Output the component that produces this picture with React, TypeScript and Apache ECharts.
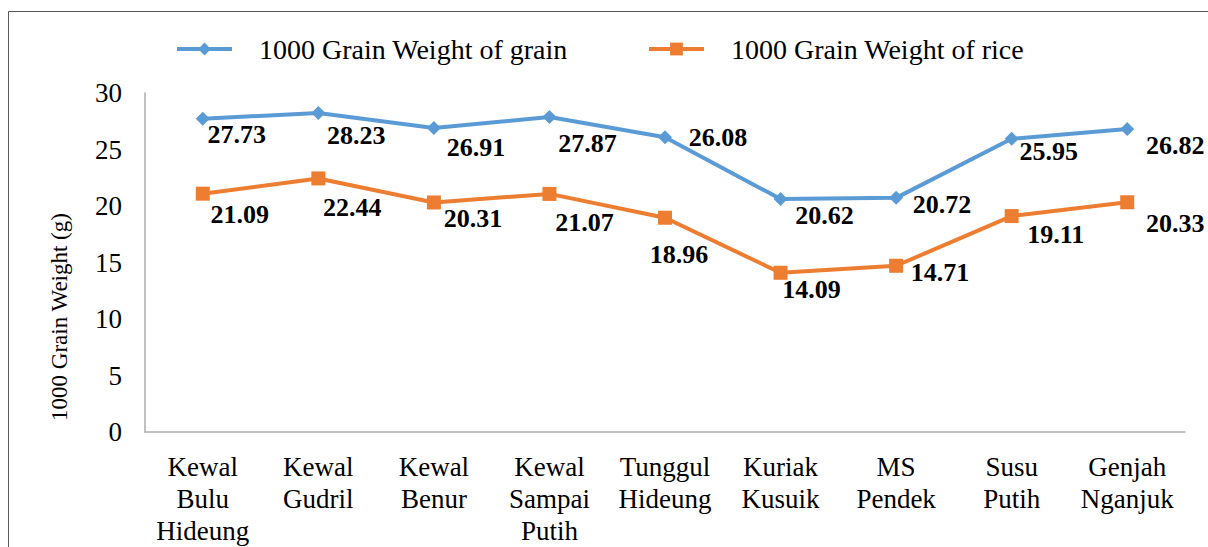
import React, { useEffect, useRef } from "react";
import * as echarts from "echarts";

const categories = [
  "Kewal Bulu Hideung",
  "Kewal Gudril",
  "Kewal Benur",
  "Kewal Sampai Putih",
  "Tunggul Hideung",
  "Kuriak Kusuik",
  "MS Pendek",
  "Susu Putih",
  "Genjah Nganjuk",
];
const grainValues = [27.73, 28.23, 26.91, 27.87, 26.08, 20.62, 20.72, 25.95, 26.82];
const riceValues = [21.09, 22.44, 20.31, 21.07, 18.96, 14.09, 14.71, 19.11, 20.33];
const seriesNames = ["1000 Grain Weight of grain", "1000 Grain Weight of rice"];
const yTicks = { min: 0, max: 30, interval: 5 };
const yTitle = "1000 Grain Weight (g)";

// label offsets (style only)
const grainLabelOffsets = [[34, 16], [38, 22], [42, 20], [38, 26], [53, 0], [44, 17], [46, 7], [37, 13], [48, 17]];
const riceLabelOffsets = [[37, 21], [34, 29], [39, 16], [35, 29], [14, 37], [31, 17], [44, 7], [44, 18], [48, 21]];

const FONT = "'Liberation Serif', 'Times New Roman', serif";
const BLUE = "#5B9BD5";
const ORANGE = "#ED7D31";

export default function App() {
  const ref = useRef<HTMLDivElement>(null);
  useEffect(() => {
    document.body.style.margin = "0";
    if (!ref.current) return;
    const chart = echarts.init(ref.current, null, { renderer: "svg" });
    const labelStyle = {
      show: true,
      position: "inside",
      color: "#000",
      fontFamily: FONT,
      fontWeight: "bold",
      fontSize: 26,
    };
    const mk = (vals: number[], offs: number[][]) =>
      vals.map((v, i) => ({ value: v, label: { offset: offs[i] } }));
    const legendBase = {
      top: 35,
      padding: 0,
      itemWidth: 55,
      itemHeight: 16,
      lineStyle: { width: 4 },
      textStyle: { fontFamily: FONT, fontSize: 28, color: "#000", padding: [0, 0, 0, 22] },
    };
    chart.setOption({
      animation: false,
      backgroundColor: "#fff",
      textStyle: { fontFamily: FONT },
      grid: { left: 145, right: 23, top: 93, bottom: 114, containLabel: false },
      legend: [
        { ...legendBase, data: [seriesNames[0]], left: 175 },
        { ...legendBase, data: [seriesNames[1]], left: 647 },
      ],
      xAxis: {
        type: "category",
        data: categories,
        boundaryGap: true,
        axisLine: { show: true, lineStyle: { color: "#ADADAD", width: 1.5 } },
        axisTick: { show: false },
        splitLine: { show: false },
        axisLabel: {
          interval: 0,
          margin: 19,
          color: "#000",
          fontFamily: FONT,
          fontSize: 27,
          lineHeight: 32,
          formatter: (v: string) => v.split(" ").join("\n"),
        },
      },
      yAxis: {
        type: "value",
        min: yTicks.min,
        max: yTicks.max,
        interval: yTicks.interval,
        axisLine: { show: true, lineStyle: { color: "#ADADAD", width: 1.5 } },
        axisTick: { show: false },
        splitLine: { show: false },
        axisLabel: { margin: 23, color: "#000", fontFamily: FONT, fontSize: 27 },
      },
      series: [
        {
          name: seriesNames[0],
          type: "line",
          data: mk(grainValues, grainLabelOffsets),
          symbol: "diamond",
          symbolSize: 14,
          lineStyle: { color: BLUE, width: 4 },
          itemStyle: { color: BLUE },
          label: labelStyle,
        },
        {
          name: seriesNames[1],
          type: "line",
          data: mk(riceValues, riceLabelOffsets),
          symbol: "rect",
          symbolSize: 14,
          lineStyle: { color: ORANGE, width: 4 },
          itemStyle: { color: ORANGE },
          label: labelStyle,
        },
      ],
      graphic: [
        {
          type: "rect",
          shape: { x: 8.5, y: 11.5, width: 1300, height: 700 },
          style: { fill: "none", stroke: "#595959", lineWidth: 1 },
          silent: true,
        },
        {
          type: "text",
          x: 59,
          y: 317,
          rotation: Math.PI / 2,
          style: {
            text: yTitle,
            fontFamily: FONT,
            fontSize: 23,
            fill: "#000",
            align: "center",
            verticalAlign: "middle",
          },
        },
      ],
    });
    return () => chart.dispose();
  }, []);
  return <div ref={ref} style={{ width: 1208, height: 547 }} />;
}
